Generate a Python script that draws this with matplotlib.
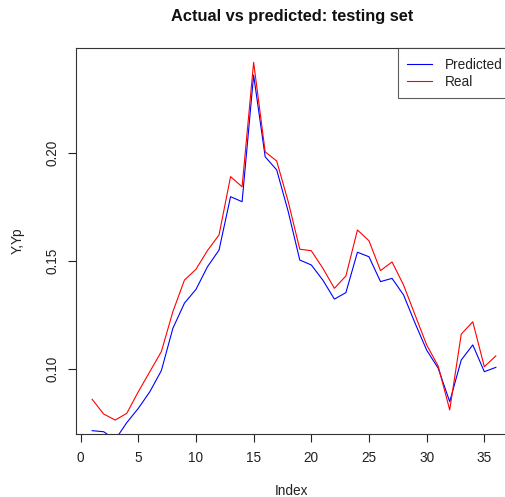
import matplotlib
matplotlib.use("Agg")
import matplotlib.pyplot as plt
import numpy as np

index = list(range(1, 37))
real = [0.0861, 0.0793, 0.0765, 0.0796, 0.0896, 0.0989, 0.1082, 0.1267, 0.1413, 0.1463,
        0.1550, 0.1622, 0.1892, 0.1845, 0.2421, 0.2007, 0.1964, 0.1776, 0.1556, 0.1549,
        0.1468, 0.1375, 0.1432, 0.1645, 0.1595, 0.1457, 0.1497, 0.1390, 0.1251, 0.1113,
        0.1015, 0.0812, 0.1163, 0.1220, 0.1012, 0.1062]
predicted = [0.0716, 0.0711, 0.0674, 0.0753, 0.0819, 0.0896, 0.0994, 0.1190, 0.1306, 0.1370,
             0.1475, 0.1552, 0.1799, 0.1776, 0.2362, 0.1984, 0.1923, 0.1730, 0.1506, 0.1483,
             0.1413, 0.1325, 0.1355, 0.1542, 0.1521, 0.1406, 0.1421, 0.1344, 0.1213, 0.1089,
             0.1005, 0.0850, 0.1043, 0.1113, 0.0989, 0.1009]
xticks = [0, 5, 10, 15, 20, 25, 30, 35]
yticks = [0.10, 0.15, 0.20]
ytick_labels = ["0.10", "0.15", "0.20"]

plt.rcParams['font.family'] = ['Liberation Sans', 'DejaVu Sans']

W, H = 505, 497
FS = 9.8
fig = plt.figure(figsize=(W / 100, H / 100), dpi=100)
ax = fig.add_axes([76 / W, 1 - 434 / H, 436 / W, 386 / H])

ax.plot(index, predicted, color='#0000ff', lw=0.8, label='Predicted')
ax.plot(index, real, color='#ff0000', lw=0.8, label='Real')

ax.set_xlim(-0.4, 37.4)
ax.set_ylim(0.07005, 0.24875)
ax.set_xticks(xticks)
ax.set_yticks(yticks)
ax.set_yticklabels(ytick_labels, rotation=90, va='center')
ax.tick_params(axis='both', length=6, width=0.8, labelsize=FS, color='#222222', labelcolor='#222222')
ax.tick_params(axis='x', pad=6.5)
ax.tick_params(axis='y', pad=6)
for s in ax.spines.values():
    s.set_linewidth(0.8)
    s.set_color('#333333')

leg = ax.legend(loc='upper right', bbox_to_anchor=(1.0, 1.0), frameon=True, fancybox=False,
                fontsize=FS, borderaxespad=0, handlelength=1.84, handletextpad=0.88,
                borderpad=0.72, labelspacing=0.2)
leg.get_frame().set_edgecolor('#333333')
leg.get_frame().set_linewidth(0.8)
for t in leg.get_texts():
    t.set_color('#222222')

fig.text(292 / W, 1 - 17 / H, "Actual vs predicted: testing set", ha='center', va='center',
         fontsize=11.8, fontweight='bold', color='#111111')
fig.text(292 / W, 1 - 491 / H, "Index", ha='center', va='center', fontsize=FS, color='#222222')
fig.text(18 / W, 1 - 241 / H, "Y,Yp", ha='center', va='center', rotation=90, fontsize=FS, color='#222222')

fig.savefig("out.png", dpi=100)
